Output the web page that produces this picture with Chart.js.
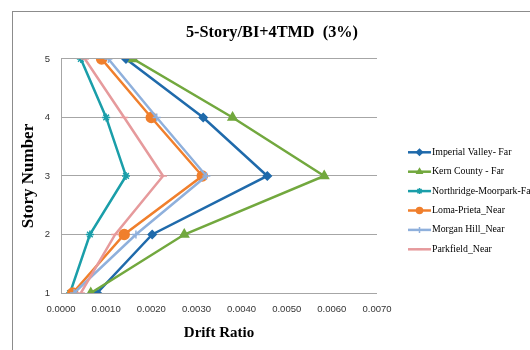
<!DOCTYPE html>
<html>
<head>
<meta charset="utf-8">
<script src="https://cdn.jsdelivr.net/npm/chart.js@4.4.1/dist/chart.umd.min.js"></script>
<style>
  html, body { margin: 0; padding: 0; background: #fff; }
  #wrap { position: relative; width: 530px; height: 350px; overflow: hidden; }
  #frame { position: absolute; left: 12px; top: 11px; width: 600px; height: 400px; border: 1px solid #8c8c8c; box-sizing: border-box; }
  canvas { position: absolute; left: 0; top: 0; }
</style>
</head>
<body>
<div id="wrap">
  <div id="frame"></div>
  <canvas id="c" width="530" height="350"></canvas>
</div>
<script>
const stories = [1, 2, 3, 4, 5];
const seriesNames = [
  "Imperial Valley- Far",
  "Kern County - Far",
  "Northridge-Moorpark-Far",
  "Loma-Prieta_Near",
  "Morgan Hill_Near",
  "Parkfield_Near"
];
const imperialValley = [0.00080, 0.00202, 0.00457, 0.00315, 0.00144];
const kernCounty     = [0.00066, 0.00273, 0.00583, 0.00380, 0.00160];
const northridge     = [0.00020, 0.00064, 0.00144, 0.00100, 0.00044];
const lomaPrieta     = [0.00026, 0.00140, 0.00313, 0.00200, 0.00090];
const morganHill     = [0.00029, 0.00166, 0.00322, 0.00212, 0.00105];
const parkfield      = [0.00044, 0.00120, 0.00226, 0.00140, 0.00053];
const xTicks = [0, 0.001, 0.002, 0.003, 0.004, 0.005, 0.006, 0.007];

const seriesValues = [imperialValley, kernCounty, northridge, lomaPrieta, morganHill, parkfield];
const colors = ["#1f6aab", "#72a83e", "#1a9ea9", "#f07f2c", "#8fb0dc", "#e69a9c"];
const styles = ["rectRot", "triangle", "star", "circle", "cross", "line"];
const radii = [4, 5, 4, 5, 4, 4];

const datasets = seriesNames.map((name, i) => ({
  label: name,
  data: stories.map((s, k) => ({ x: seriesValues[i][k], y: s })),
  borderColor: colors[i],
  backgroundColor: colors[i],
  pointStyle: styles[i],
  pointRadius: radii[i],
  pointBorderWidth: 1.5,
  borderWidth: 2.5,
  showLine: true,
  tension: 0,
  order: 6 - i
}));

const legendPlugin = {
  id: 'customLegend',
  afterLayout(chart) {
    // center the title on the whole frame like the reference
    if (chart.titleBlock) { chart.titleBlock.left = 12; chart.titleBlock.right = 532; }
  },
  afterDraw(chart) {
    const ctx = chart.ctx;
    const x0 = 408, x1 = 431, tx = 432;
    const y0 = 152.3, dy = 19.4;
    ctx.save();
    chart.data.datasets.forEach((ds, i) => {
      const y = y0 + i * dy;
      ctx.strokeStyle = ds.borderColor;
      ctx.lineWidth = 2.5;
      ctx.beginPath(); ctx.moveTo(x0, y); ctx.lineTo(x1, y); ctx.stroke();
      ctx.fillStyle = ds.backgroundColor;
      ctx.lineWidth = 1.5;
      Chart.helpers.drawPoint(ctx, { pointStyle: ds.pointStyle, radius: 3, borderWidth: 1.5, rotation: 0 }, (x0 + x1) / 2, y);
      ctx.fillStyle = '#000';
      ctx.font = '9.8px "Liberation Serif", serif';
      ctx.textBaseline = 'middle';
      ctx.textAlign = 'left';
      ctx.fillText(ds.label, tx, y);
    });
    ctx.restore();
  }
};

new Chart(document.getElementById('c'), {
  type: 'scatter',
  data: { datasets },
  options: {
    responsive: false,
    animation: false,
    layout: { padding: { left: 10, right: 153, top: 0, bottom: 0 } },
    plugins: {
      legend: { display: false },
      tooltip: { enabled: false },
      title: {
        display: true,
        text: '5-Story/BI+4TMD  (3%)',
        color: '#000',
        font: { family: '"Liberation Serif", serif', size: 16.3, weight: 'bold', lineHeight: 1.2 },
        padding: { top: 23, bottom: 16.4 }
      }
    },
    scales: {
      x: {
        type: 'linear',
        min: 0, max: 0.007,
        afterBuildTicks(scale) { scale.ticks = xTicks.map(v => ({ value: v })); },
        afterFit(scale) { scale.height = 350 - 293; },
        ticks: {
          padding: 11,
          color: '#333',
          font: { family: '"Liberation Sans", sans-serif', size: 9.5 },
          callback: v => Number(v).toFixed(4),
          maxRotation: 0, autoSkip: false
        },
        grid: { display: false, drawTicks: false },
        border: { display: false },
        title: {
          display: true,
          text: 'Drift Ratio',
          color: '#000',
          font: { family: '"Liberation Serif", serif', size: 15, weight: 'bold', lineHeight: 1.2 },
          padding: { top: 0, bottom: 8 }
        }
      },
      y: {
        type: 'linear',
        min: 1, max: 5,
        afterBuildTicks(scale) { scale.ticks = stories.map(v => ({ value: v })); },
        afterFit(scale) { scale.width = 51; },
        ticks: {
          padding: 11,
          color: '#333',
          font: { family: '"Liberation Sans", sans-serif', size: 9.5 }
        },
        grid: { color: '#a6a6a6', lineWidth: 1, drawTicks: false },
        border: { display: true, color: '#a6a6a6', width: 1 },
        title: {
          display: true,
          text: 'Story Number',
          color: '#000',
          font: { family: '"Liberation Serif", serif', size: 17, weight: 'bold', lineHeight: 1.2 },
          padding: { top: 8, bottom: 0 }
        }
      }
    }
  },
  plugins: [legendPlugin]
});
</script>
</body>
</html>
